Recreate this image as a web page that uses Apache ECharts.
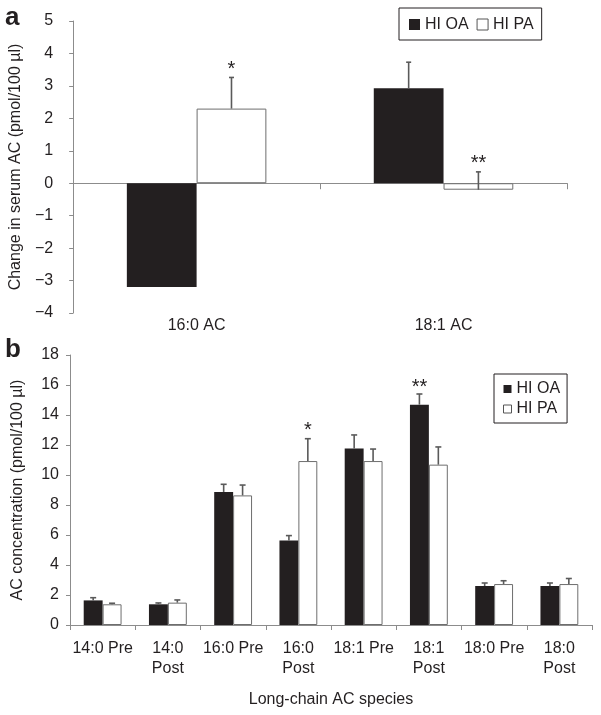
<!DOCTYPE html>
<html>
<head>
<meta charset="utf-8">
<script src="https://cdn.jsdelivr.net/npm/echarts@6/dist/echarts.min.js"></script>
<style>
html,body{margin:0;padding:0;background:#fff;}
#chart{width:601px;height:715px;}
</style>
</head>
<body>
<div id="chart"></div>
<script>
// ---------- Data ----------
var seriesNames = ['HI OA', 'HI PA'];

// Panel a
var categoriesA = ['16:0 AC', '18:1 AC'];
var valuesA_OA = [-3.2, 2.93];
var errA_OA = [null, 0.8];
var valuesA_PA = [2.3, -0.2];
var errA_PA = [0.96, 0.55];
var sigA_OA = ['', ''];
var sigA_PA = ['*', '**'];

// Panel b
var categoriesB = ['14:0 Pre', '14:0\nPost', '16:0 Pre', '16:0\nPost', '18:1 Pre', '18:1\nPost', '18:0 Pre', '18:0\nPost'];
var valuesB_OA = [1.64, 1.38, 8.87, 5.64, 11.76, 14.69, 2.6, 2.6];
var errB_OA = [0.18, 0.09, 0.51, 0.32, 0.91, 0.71, 0.2, 0.2];
var valuesB_PA = [1.38, 1.49, 8.64, 10.93, 10.93, 10.69, 2.73, 2.73];
var errB_PA = [0.07, 0.18, 0.69, 1.49, 0.8, 1.18, 0.22, 0.37];
var sigB_OA = ['', '', '', '', '', '**', '', ''];
var sigB_PA = ['', '', '', '*', '', '', '', ''];

// ---------- Styles ----------
var FONT = '"Liberation Sans", Arial, Helvetica, sans-serif';
var TXT = '#231f20';
var AXIS = '#8c8c8c';
var DARK = '#231f20';
var PA_BORDER = '#6e6e6e';
var ERR = '#5a5a5a';
var GAP_A = 0.435, GAP_B = 0.42;

function minus(v) { return String(v).replace('-', '\u2212'); }

function errSeries(xi, yi, vals, errs, sigs, side, gap, capW, starOff) {
  var data = vals.map(function (v, i) { return [i, v, errs[i] == null ? 0 : errs[i]]; });
  return {
    type: 'custom',
    xAxisIndex: xi, yAxisIndex: yi,
    z: 5, silent: true,
    data: data,
    renderItem: function (params, api) {
      var i = api.value(0), v = api.value(1), e = api.value(2);
      var band = api.size([1, 0])[0];
      var bw = band * (1 - gap) / 2;
      var base = api.coord([i, v]);
      var cx = base[0] + side * bw / 2;
      var top = api.coord([i, v + e])[1];
      var children = [];
      if (e > 0) {
        children.push({ type: 'line', shape: { x1: cx, y1: base[1], x2: cx, y2: top }, style: { stroke: ERR, lineWidth: 1.6 } });
        children.push({ type: 'line', shape: { x1: cx - capW / 2, y1: top, x2: cx + capW / 2, y2: top }, style: { stroke: ERR, lineWidth: 1.6 } });
      }
      var s = sigs[params.dataIndex];
      if (s) {
        children.push({ type: 'text', style: { text: s, x: cx, y: top - starOff, align: 'center', verticalAlign: 'middle', font: '20px ' + FONT, fill: TXT } });
      }
      return { type: 'group', children: children };
    }
  };
}

var chart = echarts.init(document.getElementById('chart'), null, { renderer: 'canvas' });

var option = {
  backgroundColor: '#fff',
  animation: false,
  textStyle: { fontFamily: FONT, color: TXT },
  graphic: [
    { type: 'text', left: 5, top: 5, style: { text: 'a', font: 'bold 26px ' + FONT, fill: TXT } },
    { type: 'text', left: 5, top: 337, style: { text: 'b', font: 'bold 26px ' + FONT, fill: TXT } }
  ],
  legend: [
    {
      left: 399, top: 8, orient: 'horizontal',
      padding: [8, 8, 7, 10], itemGap: 8, itemWidth: 11, itemHeight: 11,
      borderColor: '#231f20', borderWidth: 1, backgroundColor: '#fff',
      textStyle: { fontSize: 16, fontFamily: FONT, color: TXT, lineHeight: 17 },
      data: [
        { name: seriesNames[0], icon: 'rect', itemStyle: { color: DARK, borderWidth: 0 } },
        { name: seriesNames[1], icon: 'rect', itemStyle: { color: '#fff', borderColor: '#555', borderWidth: 1 } }
      ],
      selectedMode: false
    },
    {
      left: 494, top: 374, orient: 'vertical',
      padding: [7, 7, 6, 9], itemGap: 4, itemWidth: 8, itemHeight: 8,
      borderColor: '#231f20', borderWidth: 1, backgroundColor: '#fff',
      textStyle: { fontSize: 16, fontFamily: FONT, color: TXT, lineHeight: 16 },
      data: [
        { name: seriesNames[0], icon: 'rect', itemStyle: { color: DARK, borderWidth: 0 } },
        { name: seriesNames[1], icon: 'rect', itemStyle: { color: '#fff', borderColor: '#555', borderWidth: 1 } }
      ],
      selectedMode: false
    }
  ],
  grid: [
    { left: 71, right: 34, top: 21, bottom: 402, containLabel: false },
    { left: 70, right: 9, top: 355, bottom: 90, containLabel: false }
  ],
  xAxis: [
    {
      gridIndex: 0, type: 'category', data: categoriesA,
      axisLine: { show: true, onZero: true, lineStyle: { color: AXIS, width: 1 } },
      axisTick: { show: true, length: 6, lineStyle: { color: AXIS } },
      axisLabel: { show: false },
      splitLine: { show: false }
    },
    {
      gridIndex: 0, type: 'category', data: categoriesA, position: 'bottom',
      axisLine: { show: false, onZero: false },
      axisTick: { show: false },
      axisLabel: { show: true, margin: 5, fontSize: 16, fontFamily: FONT, color: TXT },
      splitLine: { show: false }
    },
    {
      gridIndex: 1, type: 'category', data: categoriesB,
      axisLine: { show: true, onZero: false, lineStyle: { color: AXIS, width: 1 } },
      axisTick: { show: true, length: 5, lineStyle: { color: AXIS } },
      axisLabel: { show: true, interval: 0, margin: 14, fontSize: 16, lineHeight: 20, fontFamily: FONT, color: TXT },
      name: 'Long-chain AC species', nameLocation: 'middle', nameGap: 67,
      nameTextStyle: { fontSize: 16, fontFamily: FONT, color: TXT },
      splitLine: { show: false }
    }
  ],
  yAxis: [
    {
      gridIndex: 0, type: 'value', min: -4, max: 5, interval: 1,
      axisLine: { show: true, lineStyle: { color: AXIS, width: 1 } },
      axisTick: { show: true, length: 4, lineStyle: { color: AXIS } },
      axisLabel: { margin: 20, fontSize: 16, fontFamily: FONT, color: TXT, formatter: minus },
      splitLine: { show: false },
      name: 'Change in serum AC (pmol/100 \u00b5l)', nameLocation: 'middle', nameGap: 46,
      nameTextStyle: { fontSize: 16, fontFamily: FONT, color: TXT }
    },
    {
      gridIndex: 1, type: 'value', min: 0, max: 18, interval: 2,
      axisLine: { show: true, lineStyle: { color: AXIS, width: 1 } },
      axisTick: { show: true, length: 4, lineStyle: { color: AXIS } },
      axisLabel: { margin: 11, fontSize: 16, fontFamily: FONT, color: TXT },
      splitLine: { show: false },
      name: 'AC concentration (pmol/100 \u00b5l)', nameLocation: 'middle', nameGap: 44,
      nameTextStyle: { fontSize: 16, fontFamily: FONT, color: TXT }
    }
  ],
  series: [
    {
      name: seriesNames[0], type: 'bar', xAxisIndex: 0, yAxisIndex: 0,
      data: valuesA_OA, barGap: '0%', barCategoryGap: (GAP_A * 100) + '%',
      itemStyle: { color: DARK, borderWidth: 0 }, z: 2
    },
    {
      name: seriesNames[1], type: 'bar', xAxisIndex: 0, yAxisIndex: 0,
      data: valuesA_PA, barGap: '0%', barCategoryGap: (GAP_A * 100) + '%',
      itemStyle: { color: '#fff', borderColor: PA_BORDER, borderWidth: 1 }, z: 2
    },
    errSeries(0, 0, valuesA_OA, errA_OA, sigA_OA, -1, GAP_A, 5, 8),
    errSeries(0, 0, valuesA_PA, errA_PA, sigA_PA, 1, GAP_A, 5, 8),
    {
      name: seriesNames[0], type: 'bar', xAxisIndex: 2, yAxisIndex: 1,
      data: valuesB_OA, barGap: '0%', barCategoryGap: (GAP_B * 100) + '%',
      itemStyle: { color: DARK, borderWidth: 0 }, z: 2
    },
    {
      name: seriesNames[1], type: 'bar', xAxisIndex: 2, yAxisIndex: 1,
      data: valuesB_PA, barGap: '0%', barCategoryGap: (GAP_B * 100) + '%',
      itemStyle: { color: '#fff', borderColor: PA_BORDER, borderWidth: 1 }, z: 2
    },
    errSeries(2, 1, valuesB_OA, errB_OA, sigB_OA, -1, GAP_B, 6, 7),
    errSeries(2, 1, valuesB_PA, errB_PA, sigB_PA, 1, GAP_B, 6, 8)
  ]
};
chart.setOption(option);
</script>
</body>
</html>
